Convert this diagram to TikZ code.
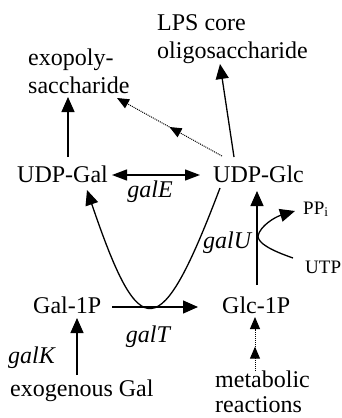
\documentclass[tikz,border=0pt]{standalone}
\usepackage{fontspec}
\setmainfont{Liberation Serif}
\usetikzlibrary{arrows.meta,decorations.markings}
\begin{document}
\begin{tikzpicture}[x=1pt,y=-1pt,
  lbl/.style={inner sep=0pt, font=\fontsize{24}{27.5}\selectfont},
  gene/.style={inner sep=0pt, font=\fontsize{24}{27}\selectfont\itshape},
  sml/.style={inner sep=0pt, font=\fontsize{19}{22}\selectfont},
  arr/.style={line width=1.3pt, -{Triangle[length=15pt,width=13pt]}},
  dblarr/.style={line width=1.3pt, {Triangle[length=15pt,width=11pt]}-{Triangle[length=15pt,width=11pt]}},
  dotarr/.style={line width=1pt, densely dotted, -{Triangle[length=12pt,width=10pt]},
    decoration={markings, mark=at position #1 with {\arrow{Triangle[length=12pt,width=10pt]}}},
    postaction={decorate}}
]
\useasboundingbox (0,0) rectangle (342,418);

% labels
\node[lbl, anchor=base west, align=left] (lps) at (157,58) {LPS core\\oligosaccharide};
\node[lbl, anchor=base west, align=left] (exo) at (28,93) {exopoly-\\saccharide};
\node[lbl, anchor=base west] (udpgal) at (17,182) {UDP-Gal};
\node[lbl, anchor=base west] (udpglc) at (213,182) {UDP-Glc};
\node[gene, anchor=base] (galE) at (150,197) {galE};
\node[gene, anchor=base west] (galU) at (203,248) {galU};
\node[sml, anchor=base west] (ppi) at (303,214) {PP\textsubscript{i}};
\node[sml, anchor=base west] (utp) at (305,273) {UTP};
\node[lbl, anchor=base west] (gal1p) at (33,313) {Gal-1P};
\node[lbl, anchor=base west] (glc1p) at (222,313) {Glc-1P};
\node[gene, anchor=base] (galT) at (148,342) {galT};
\node[gene, anchor=base west] (galK) at (8,363) {galK};
\node[lbl, anchor=base west] (exog) at (10,396) {exogenous Gal};
\node[lbl, anchor=base west, align=left, font=\fontsize{24}{25}\selectfont] (metab) at (215,412) {metabolic\\reactions};

% connector end points
\coordinate (a1s) at (68,157);  \coordinate (a1e) at (68,97);
\coordinate (a2s) at (234,157); \coordinate (a2e) at (220,64);
\coordinate (a3s) at (222,156); \coordinate (a3e) at (117,98);
\coordinate (a4s) at (112,175); \coordinate (a4e) at (200,175);
\coordinate (a5s) at (220,188); \coordinate (a5e) at (87,190);
\coordinate (a6s) at (112,307); \coordinate (a6e) at (198,307);
\coordinate (a7s) at (77,375);  \coordinate (a7e) at (77,318);
\coordinate (a8s) at (255,371); \coordinate (a8e) at (255,317);
\coordinate (a9s) at (257,285); \coordinate (a9e) at (257,191);
\coordinate (a10s) at (293,258); \coordinate (a10m) at (258,236); \coordinate (a10e) at (295,211);

% connectors
\draw[arr] (a1s) -- (a1e);
\draw[arr] (a2s) -- (a2e);
\draw[dotarr=0.5] (a3s) -- (a3e);
\draw[dblarr] (a4s) -- (a4e);
\draw[arr] (a5s) .. controls (160,346) and (140,346) .. (a5e);
\draw[arr] (a6s) -- (a6e);
\draw[arr] (a7s) -- (a7e);
\draw[dotarr=0.45] (a8s) -- (a8e);
\draw[arr] (a9s) -- (a9e);
\draw[arr] (a10s) .. controls (270,250) and (258,243) .. (a10m) .. controls (260,226) and (275,217) .. (a10e);
\end{tikzpicture}
\end{document}
